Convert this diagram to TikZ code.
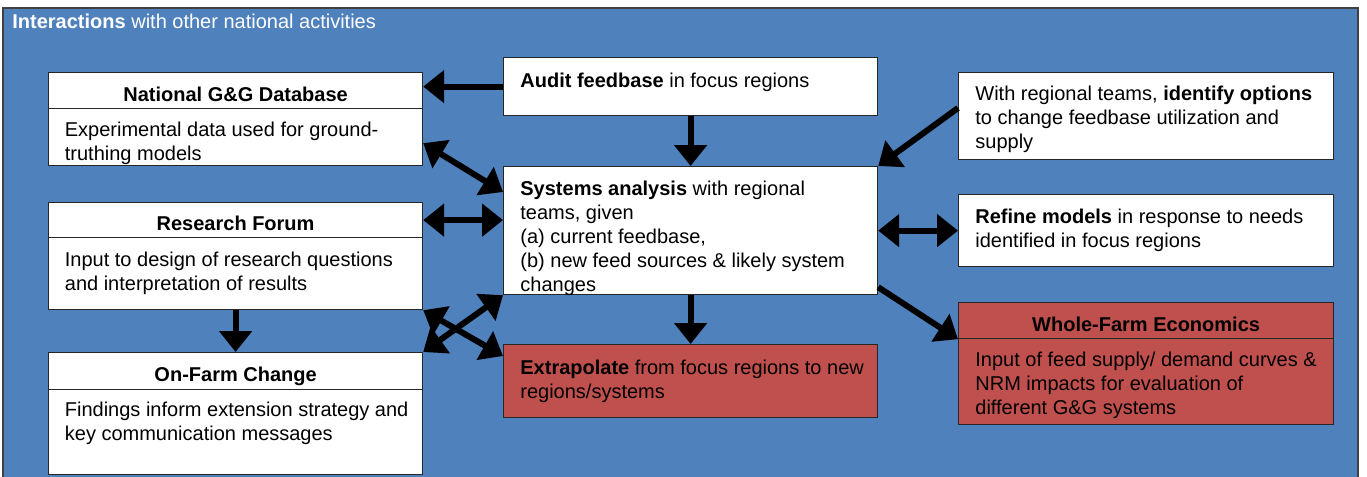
\documentclass[tikz,border=0pt]{standalone}
\usepackage{fontspec}
\setmainfont{Liberation Sans}
\usepackage{tikz}
\usetikzlibrary{positioning, arrows.meta, calc}
\usepackage{xcolor}
\definecolor{bgblue}{HTML}{4F81BD}
\definecolor{boxred}{HTML}{C0504D}

\begin{document}
\begin{tikzpicture}[x=0.5pt, y=-0.5pt,
    box/.style={draw=black!85, line width=0.6pt, fill=white, anchor=north west,
                inner sep=0pt, minimum width=187pt},
    redbox/.style={box, fill=boxred},
    head/.style={font=\bfseries, text height=10.5pt, text depth=0pt},
    txt/.style={anchor=north west, inner sep=0pt, align=left},
    tip/.style={Triangle[length=10.5pt, width=16pt]},
    link/.style={line width=3pt, -{Triangle[length=10.5pt, width=16pt]}},
    both/.style={line width=3pt, {Triangle[length=10.5pt, width=16pt]}-{Triangle[length=10.5pt, width=16pt]}}]
  \useasboundingbox (0,0) rectangle (1367,477);
  \draw[draw=black!75, fill=bgblue, line width=0.6pt] (3,8) rectangle (1358,485);
  \node[anchor=base west, inner sep=0pt, text=white] (title) at (12,28)
    {\textbf{Interactions} with other national activities};

  % left column
  \node[box, minimum height=18pt, head] (dbhead) at (48,72) {National G\&G Database};
  \node[box, minimum height=28.5pt] (dbbody) at (48,108) {};
  \node[txt] (dbtxt) at ([shift={(16.5,14)}]dbbody.north west)
    {Experimental data used for ground-\\truthing models};
  \node[box, minimum height=17.5pt, head] (rfhead) at (48,202) {Research Forum};
  \node[box, minimum height=36pt] (rfbody) at (48,237) {};
  \node[txt] (rftxt) at ([shift={(16.5,15)}]rfbody.north west)
    {Input to design of research questions\\and interpretation of results};
  \node[box, minimum height=18.5pt, head] (ofhead) at (48,352) {On-Farm Change};
  \node[box, minimum height=42.5pt] (ofbody) at (48,389) {};
  \node[txt] (oftxt) at ([shift={(16.5,13)}]ofbody.north west)
    {Findings inform extension strategy and\\key communication messages};

  % middle column
  \node[box, minimum height=29pt] (audit) at (503,57) {};
  \node[txt] (audittxt) at ([shift={(17,16)}]audit.north west)
    {\textbf{Audit feedbase} in focus regions};
  \node[box, minimum height=64pt] (sys) at (503,166) {};
  \node[txt] (systxt) at ([shift={(17,15)}]sys.north west)
    {\textbf{Systems analysis} with regional\\teams, given\\(a) current feedbase,\\(b) new feed sources \& likely system\\changes};
  \node[redbox, minimum height=36.5pt] (extrap) at (503,344) {};
  \node[txt] (extraptxt) at ([shift={(17,16)}]extrap.north west)
    {\textbf{Extrapolate} from focus regions to new\\regions/systems};

  % right column
  \node[box, minimum width=187.5pt, minimum height=43.5pt] (options) at (958,72) {};
  \node[txt] (optionstxt) at ([shift={(17,14)}]options.north west)
    {With regional teams, \textbf{identify options}\\to change feedbase utilization and\\supply};
  \node[box, minimum width=187.5pt, minimum height=36pt] (refine) at (958,194) {};
  \node[txt] (refinetxt) at ([shift={(17,15)}]refine.north west)
    {\textbf{Refine models} in response to needs\\identified in focus regions};
  \node[redbox, minimum width=187.5pt, minimum height=18pt, head] (wfhead) at (958,302)
    {Whole-Farm Economics};
  \node[redbox, minimum width=187.5pt, minimum height=43pt] (wfbody) at (958,338) {};
  \node[txt] (wftxt) at ([shift={(17,14)}]wfbody.north west)
    {Input of feed supply/ demand curves \&\\NRM impacts for evaluation of\\different G\&G systems};

  % connectors
  \draw[link] (audit.west) -- (audit.west -| dbhead.east);
  \draw[link] (audit.south) -- (sys.north);
  \draw[both] ([shift={(0,-23)}]dbbody.south east) -- ([shift={(0,26)}]sys.north west);
  \draw[both] (rfhead.east) -- (rfhead.east -| sys.west);
  \draw[link] ([shift={(0,36)}]options.north west) -- (sys.north east);
  \draw[both] (refine.west) -- (refine.west -| sys.east);
  \draw[link] ([shift={(0,-8)}]sys.south east) -- (wfhead.south west);
  \draw[link] (sys.south) -- (extrap.north);
  \draw[link] (rfbody.south) -- (ofhead.north);
  \draw[both] (rfbody.south east) -- ([shift={(0,12)}]extrap.north west);
  \draw[both] (ofhead.north east) -- (sys.south west);
\end{tikzpicture}
\end{document}
